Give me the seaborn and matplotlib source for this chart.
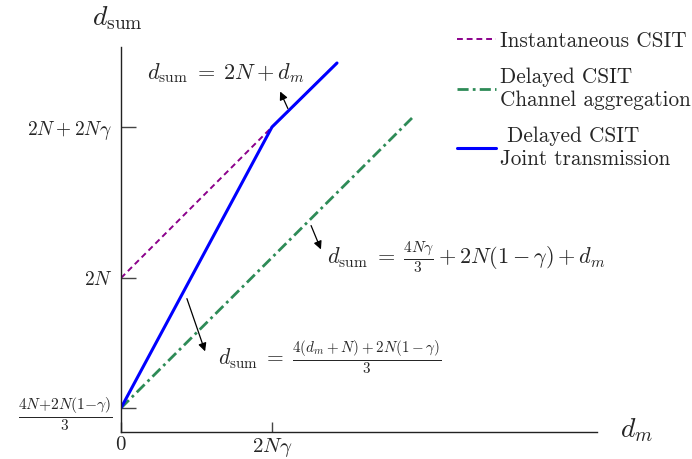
import numpy as np
import pandas as pd
import matplotlib
matplotlib.use("Agg")
import matplotlib.pyplot as plt
import seaborn as sns

# -------------------------------
# Data (schematic units)
# -------------------------------
inst_x = [0, 151, 216]
inst_y = [154, 305, 369]

agg_x = [0, 291]
agg_y = [24, 314]

joint_x = [0, 151, 216]
joint_y = [24, 305, 369]

x_ticks = [0, 151]
x_tick_labels = [r"$0$", r"$2N\gamma$"]
y_ticks = [24, 154, 305]
y_tick_labels = [r"$\frac{4N{+}2N(1{-}\gamma)}{3}$", r"$2N$", r"$2N+2N\gamma$"]

labels = ["Instantaneous CSIT",
          "Delayed CSIT\nChannel aggregation",
          " Delayed CSIT\nJoint transmission"]

# -------------------------------
# Style
# -------------------------------
sns.set_style("white")
plt.rcParams["font.family"] = "serif"
plt.rcParams["font.serif"] = ["cmr10"]
plt.rcParams["mathtext.fontset"] = "cm"
plt.rcParams["axes.unicode_minus"] = False

fig = plt.figure(figsize=(6.92, 4.59), dpi=100)
ax = fig.add_axes([121 / 692, 27 / 459, 476 / 692, 385 / 459])

# -------------------------------
# Lines
# -------------------------------
sns.lineplot(x=inst_x, y=inst_y, ax=ax, sort=False, color="#8B008B",
             linestyle=(0, (3, 2)), linewidth=1.4, label=labels[0])
sns.lineplot(x=agg_x, y=agg_y, ax=ax, sort=False, color="#2E8B57",
             linestyle=(0, (4, 1.5, 1, 1.5)), linewidth=2.0, label=labels[1])
sns.lineplot(x=joint_x, y=joint_y, ax=ax, sort=False, color="#0000FF",
             linewidth=2.2, label=labels[2])

ax.set_xlim(0, 476)
ax.set_ylim(0, 385)

# axes: only left and bottom
for side in ["top", "right"]:
    ax.spines[side].set_visible(False)
for side in ["left", "bottom"]:
    ax.spines[side].set_color("#222222")
    ax.spines[side].set_linewidth(1.0)

ax.set_xticks(x_ticks)
ax.set_xticklabels(x_tick_labels, fontsize=15)
ax.set_yticks(y_ticks)
ax.set_yticklabels(y_tick_labels, fontsize=14)
ax.get_yticklabels()[0].set_fontsize(16)
ax.tick_params(axis="y", direction="in", length=11, width=1, color="#444444", pad=6, left=True)
ax.tick_params(axis="x", direction="in", length=7, width=1, color="#444444", pad=3, bottom=True)

ax.set_ylabel(r"$d_{\rm sum}$", fontsize=20, rotation=0, va="center", ha="center")
ax.yaxis.set_label_coords(-0.008, 1.075)
ax.set_xlabel(r"$d_m$", fontsize=20, va="center", ha="center")
ax.xaxis.set_label_coords(1.082, 0.005)

# -------------------------------
# Annotations
# -------------------------------
arrow = dict(arrowstyle="-|>", color="black", lw=0.9, mutation_scale=12)
ax.text(105, 359, r"$d_{\rm sum}\;=\;2N + d_m$", fontsize=16, ha="center", va="center")
ax.annotate("", xy=(158, 343), xytext=(168, 321), arrowprops=arrow)

ax.text(206, 174, r"$d_{\rm sum}\;=\;\frac{4N\gamma}{3} + 2N(1-\gamma) + d_m$",
        fontsize=16, ha="left", va="center")
ax.annotate("", xy=(201, 180), xytext=(189, 209), arrowprops=arrow)

ax.text(97, 75, r"$d_{\rm sum}\;=\;\frac{4(d_m+N)+2N(1-\gamma)}{3}$",
        fontsize=15.5, ha="left", va="center")
ax.annotate("", xy=(85, 78), xytext=(65, 136), arrowprops=arrow)

# -------------------------------
# Legend
# -------------------------------
ax.legend(loc="upper left", bbox_to_anchor=(438 / 692, 447 / 459),
          bbox_transform=fig.transFigure, frameon=False, fontsize=15.3,
          handlelength=1.85, handletextpad=0.15, labelspacing=0.8)

fig.savefig("out.png", dpi=100)
